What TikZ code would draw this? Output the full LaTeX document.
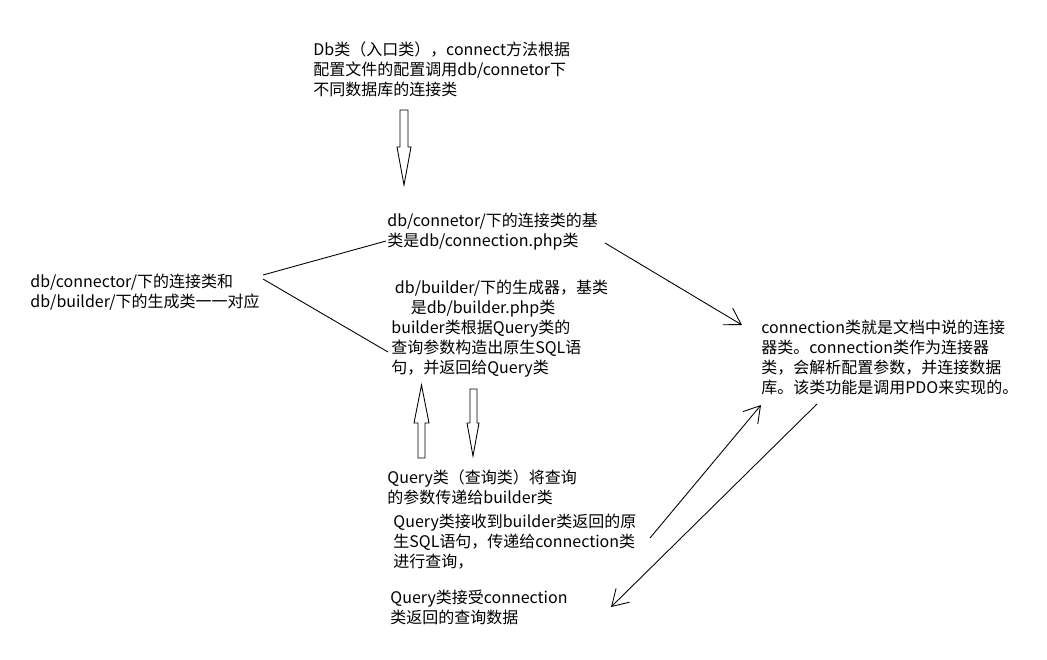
\documentclass[tikz,border=0pt]{standalone}
\usepackage{fontspec}
\setmainfont{Noto Sans CJK SC}
\usetikzlibrary{arrows.meta, calc}

\begin{document}
\begin{tikzpicture}[x=0.02cm, y=-0.02cm, >={Straight Barb[length=9pt, width=11pt]}, line width=0.5pt, every node/.style={font=\fontsize{9.1pt}{11.4pt}\selectfont, anchor=west, align=left, inner sep=0pt}]

\useasboundingbox (0,0) rectangle (1047,659);

% Text blocks
\node (dbentry) at (313,69) {Db类（入口类），connect方法根据\\配置文件的配置调用db/connetor下\\不同数据库的连接类};
\node (connbase) at (387,231.5) {db/connetor/下的连接类的基\\类是db/connection.php类};
\node (corr) at (30,292) {db/connector/下的连接类和\\db/builder/下的生成类一一对应};
\node (builder) at (391,329) {\hspace*{2pt}db/builder/下的生成器，基类\\\hspace*{11pt}是db/builder.php类\\builder类根据Query类的\\查询参数构造出原生SQL语\\句，并返回给Query类};
\node (queryparam) at (387,487) {Query类（查询类）将查询\\的参数传递给builder类};
\node (queryrecv) at (393,542) {Query类接收到builder类返回的原\\生SQL语句，传递给connection类\\进行查询，};
\node (queryres) at (390,607) {Query类接受connection\\类返回的查询数据};
\node (connection) at (761,357) {connection类就是文档中说的连接\\器类。connection类作为连接器\\类，会解析配置参数，并连接数据\\库。该类功能是调用PDO来实现的。};

% Free ends of the connectors
\coordinate (forkA) at (263,275);
\coordinate (forkB) at (263,279);
\coordinate (baseend) at (386,241);
\coordinate (builderend) at (388,352);
\coordinate (baseout) at (605,243);
\coordinate (connin) at (742,325);
\coordinate (recvout) at (650,538);
\coordinate (connup) at (761,405);
\coordinate (conndown) at (817,404);
\coordinate (resin) at (611,607);

% Hollow arrows
\draw (400,110) -- (408,110) -- (408,147) -- (411,147) -- (404,185) -- (397,147) -- (400,147) -- cycle;
\draw (418,458) -- (425,458) -- (425,423) -- (429,423) -- (421.5,385) -- (414,423) -- (418,423) -- cycle;
\draw (470,389) -- (477,389) -- (477,423) -- (479,423) -- (473,456) -- (467,423) -- (470,423) -- cycle;

% Connections
\draw (forkA) -- (baseend);
\draw (forkB) -- (builderend);
\draw[->] (baseout) -- (connin);
\draw[->] (recvout) -- (connup);
\draw[->] (conndown) -- (resin);

\end{tikzpicture}
\end{document}
